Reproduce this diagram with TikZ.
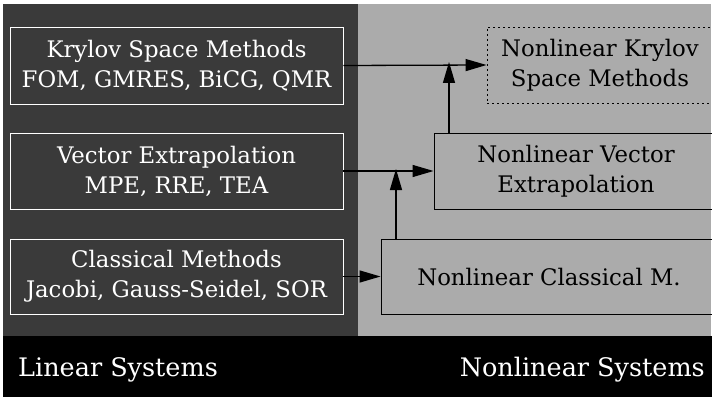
\documentclass[tikz,border=0pt]{standalone}
\usepackage{fontspec}
\setmainfont{DejaVu Serif}
\usetikzlibrary{arrows.meta}
\definecolor{darkpanel}{HTML}{3A3A3A}
\definecolor{lightpanel}{HTML}{ABABAB}
\tikzset{
  lbox/.style={draw=white, line width=0.9pt, rectangle, text=white, align=center,
    font=\fontsize{22.8}{30}\selectfont, inner sep=0pt},
  rbox/.style={draw=black, line width=0.9pt, rectangle, text=black, align=center,
    font=\fontsize{22.8}{30}\selectfont, inner sep=0pt},
  arr/.style={line width=1.3pt, -{Triangle[length=21pt,width=12pt]}},
  label/.style={text=white, font=\fontsize{25.5}{30}\selectfont, inner sep=0pt}
}
\begin{document}
\begin{tikzpicture}[x=1pt,y=-1pt]
\useasboundingbox (0,0) rectangle (712,401);
\clip (0,0) rectangle (712,401);
\fill[white] (0,0) rectangle (712,401);
\fill[darkpanel] (3,4) rectangle (358,336);
\fill[lightpanel] (358,4) rectangle (711,336);
\fill[black] (3,336) rectangle (712,397);

\node[lbox, minimum width=333pt, minimum height=77pt] (K) at (176.5,65.5) {Krylov Space Methods\\FOM, GMRES, BiCG, QMR};
\node[lbox, minimum width=333pt, minimum height=76pt] (V) at (176.5,171) {Vector Extrapolation\\MPE, RRE, TEA};
\node[lbox, minimum width=333pt, minimum height=75pt] (C) at (176.5,276.5) {Classical Methods\\Jacobi, Gauss-Seidel, SOR};

\node[rbox, dash pattern=on 2pt off 3pt, minimum width=226pt, minimum height=76pt] (NK) at (600,65) {Nonlinear Krylov\\Space Methods};
\node[rbox, minimum width=284pt, minimum height=76pt] (NV) at (576,171) {Nonlinear Vector\\Extrapolation};
\node[rbox, minimum width=336pt, minimum height=75pt] (NC) at (549,276.5) {Nonlinear Classical M.};

\coordinate (j1) at (449,65);
\coordinate (j2) at (396,171);
\draw[arr] (K.east) -- (NK.west);
\draw[arr] (NV.north -| j1) -- ([yshift=3pt]j1);
\draw[arr] (V.east) -- (NV.west);
\draw[arr] (NC.north -| j2) -- ([yshift=2pt]j2);
\draw[arr] (C.east) -- (NC.west);

\node[label, anchor=base west] (LS) at (18,376) {Linear Systems};
\node[label, anchor=base east] (NS) at (705,376) {Nonlinear Systems};
\end{tikzpicture}
\end{document}
